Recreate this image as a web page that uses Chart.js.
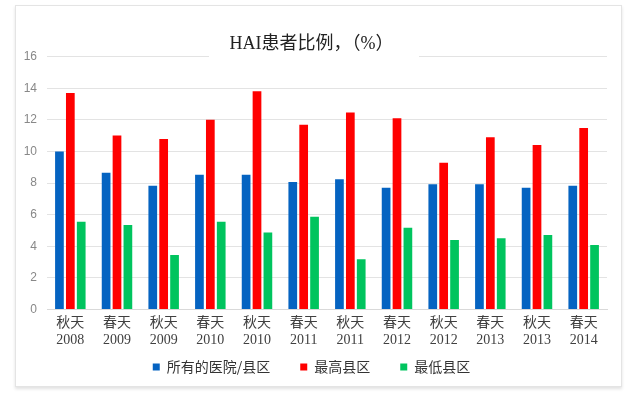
<!DOCTYPE html>
<html lang="zh">
<head>
<meta charset="UTF-8">
<title>HAI患者比例</title>
<script src="https://cdn.jsdelivr.net/npm/chart.js"></script>
<style>
    body { margin: 0; background: #fff; }
    #box {
        position: absolute; left: 15px; top: 5px; width: 607px; height: 382px;
        border: 1px solid #e4e4e4; box-sizing: border-box;
        box-shadow: 0 2px 3px rgba(0,0,0,0.12);
    }
</style>
<script>
    // data
    const seasons = ["秋天", "春天", "秋天", "春天", "秋天", "春天", "秋天", "春天", "秋天", "春天", "秋天", "春天"];
    const years = ["2008", "2009", "2009", "2010", "2010", "2011", "2011", "2012", "2012", "2013", "2013", "2014"];
    const allHospitals = [10.0, 8.65, 7.82, 8.52, 8.52, 8.07, 8.24, 7.7, 7.92, 7.92, 7.7, 7.82];
    const highestDistrict = [13.7, 11.0, 10.78, 12.0, 13.8, 11.68, 12.46, 12.1, 9.28, 10.9, 10.4, 11.48];
    const lowestDistrict = [5.55, 5.34, 3.44, 5.55, 4.86, 5.86, 3.18, 5.17, 4.39, 4.5, 4.71, 4.07];
    const yTicks = [0, 2, 4, 6, 8, 10, 12, 14, 16];

    let chartInstance = null;

    // white patch behind the title where it crosses the top gridline
    const titleGap = {
        id: "titleGap",
        afterDraw(chart) {
            const ctx = chart.ctx;
            ctx.save();
            ctx.fillStyle = "#fff";
            ctx.fillRect(193, chart.chartArea.top - 4, 210, 8);
            ctx.restore();
        }
    };

    // pull the legend up a bit closer to the axis labels
    const legendShift = {
        id: "legendShift",
        afterLayout(chart) {
            chart.legend.top -= 17;
            chart.legend.bottom -= 17;
        }
    };

    function drawChart() {
        let labels = seasons.map((s, i) => [s, years[i]]);
        let ctx = document.getElementById("haiChart").getContext("2d");
        chartInstance = new Chart(ctx, {
            type: "bar",
            data: {
                labels: labels,
                datasets: [
                    { label: "所有的医院/县区", data: allHospitals, backgroundColor: "#0563c1" },
                    { label: "最高县区", data: highestDistrict, backgroundColor: "#ff0000" },
                    { label: "最低县区", data: lowestDistrict, backgroundColor: "#00c45e" }
                ]
            },
            options: {
                responsive: false,
                animation: false,
                categoryPercentage: 0.7,
                barPercentage: 0.8,
                layout: { padding: { left: 0, right: 14, top: 0, bottom: -15 } },
                plugins: {
                    title: {
                        display: true,
                        text: "HAI患者比例，（%）",
                        color: "#222",
                        font: { family: "'Liberation Serif', 'Noto Sans CJK SC'", size: 18, weight: "normal" },
                        padding: { top: 27, bottom: 2 }
                    },
                    legend: {
                        position: "bottom",
                        labels: {
                            boxWidth: 7, boxHeight: 7, padding: 30,
                            color: "#333",
                            font: { family: "'Noto Sans CJK SC'", size: 14 }
                        }
                    },
                    tooltip: { enabled: false }
                },
                scales: {
                    x: {
                        grid: { display: false },
                        border: { color: "#d9d9d9" },
                        ticks: {
                            color: "#404040",
                            maxRotation: 0,
                            autoSkip: false,
                            padding: -2,
                            font: { family: "'Liberation Serif', 'Noto Sans CJK SC'", size: 14, lineHeight: 1.2 }
                        }
                    },
                    y: {
                        min: yTicks[0],
                        max: yTicks[yTicks.length - 1],
                        afterFit: s => { s.width = 31; },
                        grid: { color: "#e3e3e3", drawTicks: false },
                        border: { display: false },
                        ticks: {
                            stepSize: 2,
                            padding: 10,
                            color: "#888",
                            font: { family: "'Liberation Sans'", size: 12 }
                        }
                    }
                }
            },
            plugins: [titleGap, legendShift]
        });
    }
</script>
</head>
<body onload="drawChart();">
    <div id="box">
        <canvas id="haiChart" width="605" height="380"></canvas>
    </div>
</body>
</html>
